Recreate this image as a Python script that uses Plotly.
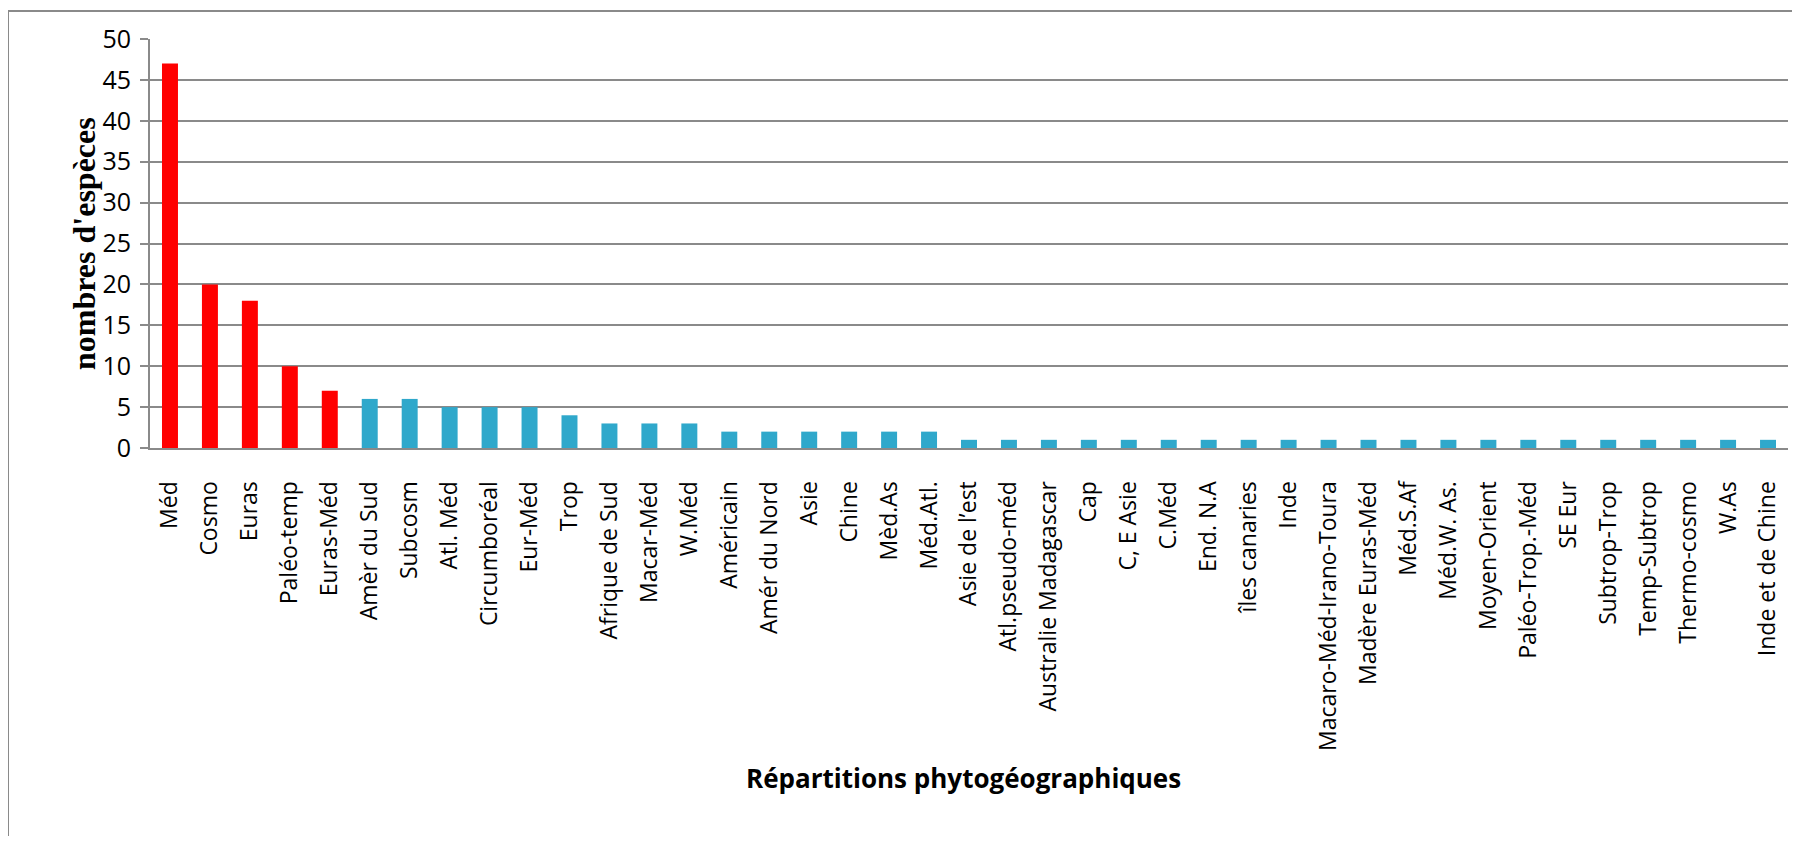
import plotly.graph_objects as go

categories = ["Méd", "Cosmo", "Euras", "Paléo-temp", "Euras-Méd", "Amèr du Sud", "Subcosm",
              "Atl. Méd", "Circumboréal", "Eur-Méd", "Trop", "Afrique de Sud", "Macar-Méd",
              "W.Méd", "Américain", "Amér du Nord", "Asie", "Chine", "Mèd.As", "Méd.Atl.",
              "Asie de l’est", "Atl.pseudo-méd", "Australie Madagascar", "Cap", "C, E Asie",
              "C.Méd", "End. N.A", "îles canaries", "Inde", "Macaro-Méd-Irano-Toura",
              "Madère Euras-Méd", "Méd.S.Af", "Méd.W. As.", "Moyen-Orient", "Paléo-Trop.-Méd",
              "SE Eur", "Subtrop-Trop", "Temp-Subtrop", "Thermo-cosmo", "W.As", "Inde et de Chine"]
values = [47, 20, 18, 10, 7, 6, 6, 5, 5, 5, 4, 3, 3, 3, 2, 2, 2, 2, 2, 2,
          1, 1, 1, 1, 1, 1, 1, 1, 1, 1, 1, 1, 1, 1, 1, 1, 1, 1, 1, 1, 1]
n_red = 5
y_ticks = [0, 5, 10, 15, 20, 25, 30, 35, 40, 45, 50]

colors = ["#FF0000" if i < n_red else "#2FA8CB" for i in range(len(values))]

# page has an 8px body margin; figure coordinates = page coordinates - 8
OFF = 8
W, H = 1784, 828
L, R, T, B = 150 - OFF, 4, 39 - OFF, 388
pw, ph = W - L - R, H - T - B

def px(x):
    return (x - OFF - L) / pw

def py(y):
    return 1 - (y - OFF - T) / ph

fig = go.Figure(go.Bar(
    x=categories, y=values, marker=dict(color=colors, line=dict(width=0)),
    width=0.4,
))

fig.update_layout(
    width=W, height=H,
    margin=dict(l=L, r=R, t=T, b=B, autoexpand=False),
    plot_bgcolor="white", paper_bgcolor="white",
    showlegend=False,
    font=dict(family="Open Sans", size=22, color="black"),
)
fig.update_yaxes(
    range=[0, 50], tickvals=y_ticks, showgrid=True, gridcolor="#8a8a8a", gridwidth=2,
    ticks="outside", ticklen=8, tickcolor="#8a8a8a", tickwidth=2,
    showline=True, linecolor="#8a8a8a", linewidth=2,
    tickfont=dict(size=25, family="Open Sans"), zeroline=False, ticklabelstandoff=4,
)
fig.update_xaxes(
    tickangle=-90, showline=True, linecolor="#8a8a8a", linewidth=2,
    tickfont=dict(size=23, family="Open Sans"), ticks="", ticklabelstandoff=22,
)

# outer frame
fig.add_shape(type="rect", xref="paper", yref="paper",
              x0=px(8), x1=px(1830), y0=py(880), y1=py(11),
              line=dict(color="#8a8a8a", width=2), fillcolor="rgba(0,0,0,0)", layer="below")

fig.add_annotation(text="<b>nombres d'espèces</b>", xref="paper", yref="paper",
                   x=px(64), y=py(244), showarrow=False, textangle=-90,
                   font=dict(family="Liberation Serif", size=32, color="black"))
fig.add_annotation(text="<b>Répartitions phytogéographiques</b>", xref="paper", yref="paper",
                   x=px(963), y=py(798), showarrow=False,
                   font=dict(family="Open Sans", size=26, color="black"))

fig.write_html("out.html")
